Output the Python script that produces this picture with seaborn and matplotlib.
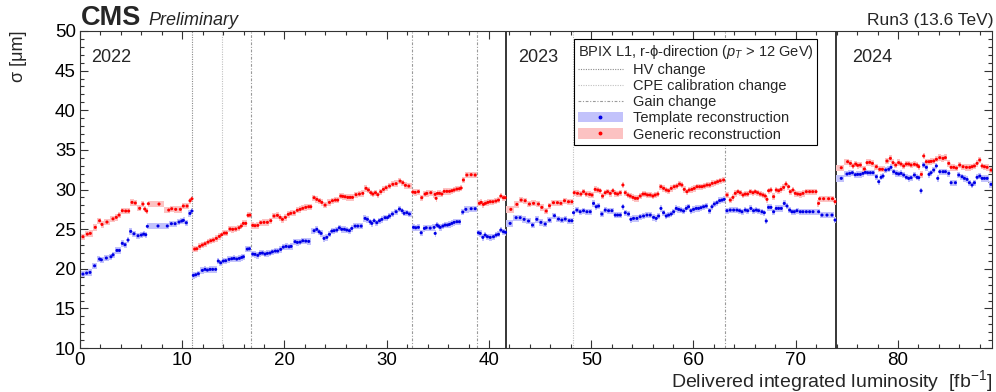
import numpy as np
import pandas as pd
import matplotlib
matplotlib.use("Agg")
import matplotlib.pyplot as plt
import seaborn as sns
from matplotlib.lines import Line2D
from matplotlib.patches import Patch
from matplotlib.legend_handler import HandlerTuple
from matplotlib.ticker import MultipleLocator

sns.set_style("ticks")
plt.rcParams["font.family"] = ["Liberation Sans", "DejaVu Sans"]
plt.rcParams["mathtext.fontset"] = "custom"
plt.rcParams["mathtext.rm"] = "Liberation Sans"
plt.rcParams["mathtext.it"] = "Liberation Sans:italic"
plt.rcParams["mathtext.bf"] = "Liberation Sans:bold"

# ---------------- data ----------------
lumi_template = [
    0.29, 0.65, 0.98, 1.43, 1.92, 2.09, 2.58, 3.03, 3.23, 3.62, 3.85, 4.14, 4.40, 4.70, 4.96, 5.28,
    5.68, 6.00, 6.23, 6.43, 6.59, 7.63, 8.54, 8.94, 9.30, 9.69, 9.95, 10.11, 10.40, 10.76, 10.95,
    11.09, 11.32, 11.58, 11.97, 12.23, 12.46, 12.72, 12.98, 13.27, 13.53, 13.76,
    14.02, 14.25, 14.58, 14.84, 15.07, 15.33, 15.59, 15.82, 15.98, 16.37, 16.57,
    16.90, 17.12, 17.39, 17.61, 17.84, 18.10, 18.33, 18.59, 18.82, 19.11, 19.34, 19.63, 19.89, 20.16,
    20.45, 20.65, 21.04, 21.26, 21.53, 21.79, 22.08, 22.37, 22.90, 23.16, 23.39, 23.58, 23.87, 24.14,
    24.40, 24.63, 24.85, 25.12, 25.37, 25.60, 25.86, 26.09, 26.35, 26.58, 26.91, 27.17, 27.50, 27.89,
    28.11, 28.38, 28.54, 28.77, 29.03, 29.29, 29.52, 29.84, 30.07, 30.27, 30.56, 30.92, 31.25, 31.51,
    31.70, 31.97, 32.22,
    32.62, 32.84, 33.10, 33.37, 33.69, 33.86, 34.25, 34.64, 34.74, 34.90, 35.06, 35.23, 35.49, 35.71,
    35.94, 36.14, 36.37, 36.59, 36.86, 37.11, 37.44, 37.74, 38.26, 38.65,
    38.97, 39.14, 39.40, 39.63, 39.85, 40.12, 40.44, 40.70, 40.93, 41.16, 41.42, 41.62,
    42.07, 42.66, 43.05, 43.44, 43.87, 44.26, 44.68, 45.08, 45.50, 45.92, 46.41, 46.80, 47.13, 47.46,
    47.85, 48.11,
    48.27, 48.60, 48.92, 49.25, 49.58, 49.90, 50.23, 50.49, 50.72, 51.04, 51.37, 51.70, 52.02, 52.35,
    52.58, 52.84, 53.10, 53.33, 53.65, 53.88, 54.14, 54.47, 54.79, 55.12, 55.45, 55.77, 56.10, 56.36,
    56.59, 56.82, 57.08, 57.34, 57.57, 57.83, 58.06, 58.32, 58.55, 58.77, 59.03, 59.30, 59.52, 59.75,
    60.01, 60.27, 60.50, 60.73, 60.99, 61.25, 61.58, 61.81, 62.04, 62.30, 62.56, 62.79, 63.01,
    63.28, 63.60, 63.93, 64.25, 64.51, 64.74, 65.07, 65.30, 65.62, 65.88, 66.15, 66.37, 66.70, 66.93,
    67.12, 67.35, 67.58, 67.84, 68.10, 68.33, 68.59, 68.88, 69.15, 69.41, 69.63, 69.86, 70.12, 70.45,
    70.71, 71.04, 71.36, 71.69, 72.24, 72.57, 73.06, 73.55, 73.85,
    74.46, 75.02, 75.28, 75.54, 75.83, 76.06, 76.32, 76.58, 76.81, 77.04, 77.30, 77.56, 77.89, 78.12,
    78.35, 78.54, 78.80, 79.10, 79.32, 79.59, 79.85, 80.07, 80.30, 80.56, 80.82, 81.05, 81.28, 81.61,
    81.87, 82.03, 82.26, 82.52, 82.78, 83.04, 83.24, 83.50, 83.76, 83.89, 84.09, 84.41, 84.64, 84.97,
    85.20, 85.62, 85.95, 86.27, 86.50, 86.76, 86.99, 87.25, 87.48, 87.74, 88.00, 88.23, 88.46, 88.72,
    89.11,
]
sigma_template = [
    19.34, 19.46, 19.55, 20.38, 21.23, 21.14, 21.36, 21.52, 21.77, 22.32, 22.32, 23.21, 23.04, 23.63, 24.72, 24.42,
    24.17, 24.26, 24.38, 24.30, 25.36, 25.40, 25.40, 25.69, 25.69, 25.90, 26.03, 26.11, 25.81, 26.99, 27.29,
    19.17, 19.25, 19.38, 19.80, 19.93, 19.84, 19.93, 19.93, 19.93, 20.98, 20.76,
    20.98, 21.02, 21.19, 21.27, 21.32, 21.23, 21.32, 21.44, 21.52, 22.49, 22.53,
    21.86, 21.82, 21.70, 21.95, 21.99, 21.86, 21.95, 21.99, 22.15, 22.24, 22.24, 22.45, 22.74, 22.83,
    22.78, 22.83, 23.42, 23.33, 23.37, 23.54, 23.50, 23.46, 24.81, 24.98, 24.68, 24.47, 23.84, 23.97,
    24.35, 24.76, 24.81, 24.89, 25.18, 24.98, 24.98, 24.89, 24.81, 25.10, 25.39, 25.39, 25.39, 26.36,
    26.24, 25.94, 25.73, 26.07, 25.82, 26.07, 26.24, 26.45, 26.45, 26.66, 26.91, 27.20, 27.54, 27.33,
    27.00, 27.08, 26.91,
    25.23, 25.18, 25.23, 24.55, 25.10, 25.18, 25.14, 25.23, 24.47, 25.52, 25.39, 25.23, 25.39, 25.52,
    25.52, 25.60, 25.73, 25.86, 25.94, 25.94, 27.16, 27.50, 27.58, 27.58,
    24.55, 24.47, 23.97, 24.26, 24.05, 23.97, 24.05, 24.26, 24.35, 24.89, 24.68, 24.60,
    25.73, 26.45, 26.45, 26.24, 26.03, 25.52, 26.24, 25.86, 25.65, 26.15, 26.70, 26.28, 26.15, 26.28,
    26.07, 26.07,
    27.08, 27.41, 27.20, 27.33, 27.20, 27.20, 28.25, 27.83, 27.92, 26.91, 27.41, 27.33, 27.33, 26.78,
    26.78, 26.78, 27.83, 27.08, 26.91, 26.24, 26.36, 26.36, 26.57, 26.66, 26.78, 26.78, 26.49, 26.36,
    26.66, 27.62, 27.08, 26.66, 26.78, 26.91, 27.20, 27.62, 27.50, 27.41, 27.29, 27.62, 27.83, 27.33,
    27.50, 27.62, 27.62, 27.71, 27.83, 27.92, 27.33, 27.83, 28.17, 28.34, 28.60, 28.67, 28.76,
    27.33, 27.41, 27.41, 27.41, 27.33, 27.20, 27.41, 27.33, 27.62, 27.33, 27.41, 27.33, 27.20, 27.08,
    26.03, 27.75, 27.75, 27.20, 27.62, 27.62, 27.62, 28.25, 27.92, 27.41, 27.20, 27.20, 27.33, 27.20,
    27.20, 27.20, 27.20, 27.20, 27.20, 26.78, 26.78, 26.78, 26.15,
    31.41, 31.96, 32.04, 32.12, 31.87, 31.91, 31.91, 32.04, 32.17, 32.12, 32.12, 32.12, 31.62, 30.99,
    31.54, 31.70, 32.46, 32.55, 32.80, 32.25, 32.04, 31.96, 32.04, 31.83, 31.54, 31.41, 31.49, 31.83,
    31.54, 31.49, 29.85, 33.09, 32.80, 31.91, 32.12, 32.46, 32.97, 31.41, 32.25, 32.25, 32.25, 32.04,
    30.86, 30.86, 31.83, 31.62, 31.41, 31.28, 30.86, 30.57, 30.86, 31.54, 31.70, 31.41, 31.41, 31.41,
    30.65,
]

lumi_generic = [
    0.29, 0.72, 1.01, 1.50, 1.92, 2.15, 2.64, 3.23, 3.55, 3.82, 4.14, 4.47, 4.76, 5.09, 5.41, 5.84,
    6.16, 6.33, 6.52, 6.69, 7.73, 8.68, 8.97, 9.36, 9.82, 10.11, 10.47, 10.76, 10.95,
    11.22, 11.42, 11.71, 11.97, 12.23, 12.52, 12.79, 13.05, 13.34, 13.63, 13.86,
    14.12, 14.32, 14.68, 14.94, 15.23, 15.56, 15.78, 15.98, 16.21, 16.44, 16.63,
    16.90, 17.12, 17.39, 17.68, 18.00, 18.33, 18.66, 18.98, 19.31, 19.57, 19.80, 20.09, 20.38, 20.61,
    20.94, 21.26, 21.53, 21.79, 22.08, 22.37, 22.57, 22.90, 23.16, 23.42, 23.65, 23.97, 24.40, 24.69,
    24.98, 25.21, 25.51, 25.70, 25.93, 26.19, 26.42, 26.65, 27.00, 27.33, 27.66, 27.98, 28.21, 28.44,
    28.64, 28.90, 29.13, 29.42, 29.68, 29.94, 30.27, 30.60, 30.92, 31.31, 31.58, 31.83, 32.16,
    32.55, 32.78, 33.10, 33.43, 33.76, 33.92, 34.31, 34.74, 34.83, 34.96, 35.16, 35.39, 35.62, 35.88,
    36.14, 36.37, 36.59, 36.86, 37.11, 37.28, 37.50, 37.84, 38.26, 38.65,
    39.07, 39.24, 39.46, 39.66, 39.89, 40.12, 40.38, 40.67, 40.93, 41.16, 41.42, 41.59,
    42.14, 42.73, 43.15, 43.54, 43.96, 44.36, 44.84, 45.17, 45.60, 45.92, 46.31, 46.70, 47.03, 47.39,
    47.78, 48.11,
    48.34, 48.66, 48.99, 49.25, 49.51, 49.84, 50.07, 50.39, 50.65, 50.88, 51.11, 51.37, 51.60, 51.86,
    52.12, 52.35, 52.58, 52.84, 53.10, 53.33, 53.59, 53.82, 54.08, 54.31, 54.53, 54.79, 55.06, 55.28,
    55.51, 55.77, 56.03, 56.26, 56.52, 56.82, 57.08, 57.34, 57.57, 57.83, 58.12, 58.38, 58.64, 58.87,
    59.10, 59.36, 59.59, 59.85, 60.08, 60.34, 60.60, 60.83, 61.06, 61.32, 61.58, 61.84, 62.13, 62.36,
    62.62, 62.95,
    63.28, 63.60, 63.86, 64.09, 64.35, 64.58, 64.84, 65.07, 65.30, 65.56, 65.82, 66.05, 66.28, 66.54,
    66.80, 67.03, 67.19, 67.35, 67.58, 67.84, 68.10, 68.33, 68.56, 68.82, 69.05, 69.31, 69.47, 69.73,
    69.96, 70.19, 70.45, 70.71, 71.04, 71.36, 71.66, 71.98, 72.24, 72.34, 72.73, 73.22, 73.60, 73.85,
    74.46, 75.08, 75.35, 75.61, 75.87, 76.06, 76.32, 76.72, 76.98, 77.24, 77.50, 77.89, 78.22, 78.48,
    78.93, 79.26, 79.52, 79.78, 80.07, 80.30, 80.56, 80.82, 81.05, 81.28, 81.61, 81.87, 82.03, 82.29,
    82.52, 82.78, 83.04, 83.24, 83.50, 83.76, 84.09, 84.41, 84.64, 84.97, 85.20, 85.46, 85.72, 86.04,
    86.37, 86.70, 87.02, 87.25, 87.48, 87.74, 88.00, 88.23, 88.46, 88.72, 89.11,
]
sigma_generic = [
    24.05, 24.38, 24.47, 25.23, 26.07, 25.60, 25.90, 26.30, 26.49, 26.78, 27.33, 27.29, 27.29, 28.38, 28.30, 27.63,
    28.17, 27.54, 27.29, 28.21, 28.17, 27.41, 27.58, 27.50, 27.50, 27.92, 27.92, 28.59, 28.84,
    22.49, 22.53, 22.83, 23.00, 23.16, 23.37, 23.54, 23.63, 23.84, 24.09, 24.30,
    24.51, 24.51, 25.02, 24.98, 25.02, 25.18, 25.39, 25.73, 25.73, 26.75, 26.78,
    25.48, 25.44, 25.48, 25.82, 25.86, 25.86, 26.07, 26.66, 26.74, 26.49, 26.24, 26.49, 26.87, 27.00,
    27.08, 27.38, 27.50, 27.63, 27.75, 27.83, 27.83, 28.97, 28.76, 28.59, 28.38, 28.04, 28.38, 28.59,
    28.67, 28.67, 29.18, 29.14, 29.09, 29.01, 29.01, 29.01, 29.35, 29.43, 29.52, 30.15, 29.94, 29.60,
    29.43, 29.60, 29.35, 29.73, 30.02, 30.23, 30.44, 30.66, 30.74, 31.07, 30.86, 30.53, 30.44,
    29.68, 29.64, 29.73, 28.97, 29.43, 29.52, 29.60, 29.39, 28.89, 29.52, 29.52, 29.43, 29.77, 29.77,
    29.77, 29.85, 29.94, 30.06, 30.10, 30.19, 31.20, 31.83, 31.87, 31.83,
    28.26, 28.38, 28.13, 28.26, 28.38, 28.46, 28.46, 28.55, 28.67, 29.18, 28.97, 28.97,
    27.50, 28.13, 28.67, 28.59, 28.17, 28.26, 28.17, 27.75, 27.29, 27.96, 28.34, 28.34, 28.26, 28.59,
    28.46, 28.46,
    29.60, 29.52, 29.43, 29.73, 29.43, 29.39, 29.31, 30.02, 29.94, 29.85, 29.18, 29.60, 29.73, 29.52,
    29.85, 29.52, 29.43, 29.60, 30.57, 29.60, 29.31, 29.18, 29.01, 28.89, 28.89, 29.18, 29.43, 29.43,
    29.31, 29.31, 29.18, 29.31, 29.43, 30.36, 30.15, 29.94, 29.85, 30.15, 30.36, 30.44, 30.69, 30.57,
    30.02, 29.73, 29.94, 30.02, 30.15, 30.36, 30.36, 30.36, 30.44, 30.57, 30.57, 30.78, 30.86, 30.99,
    31.11, 31.20,
    29.31, 28.67, 29.01, 29.52, 29.73, 29.60, 29.31, 29.43, 29.43, 29.73, 29.60, 29.73, 29.60, 29.43,
    29.31, 29.18, 28.76, 29.85, 29.94, 29.10, 29.94, 29.85, 30.02, 30.27, 30.69, 30.36, 29.73, 29.94,
    29.52, 29.43, 29.39, 29.52, 29.73, 29.73, 29.73, 29.73, 28.25, 28.84, 28.84, 28.84, 28.84, 28.47,
    32.75, 33.51, 33.30, 32.97, 33.22, 33.05, 33.09, 32.59, 33.39, 33.43, 33.30, 32.88, 32.55, 32.55,
    33.60, 33.93, 33.39, 33.09, 33.39, 33.22, 32.97, 33.22, 33.22, 33.09, 33.18, 33.09, 32.88, 31.91,
    34.23, 33.51, 33.51, 33.55, 33.60, 33.81, 34.02, 33.93, 34.02, 33.30, 32.80, 32.80, 32.71, 33.09,
    32.88, 32.80, 32.80, 32.88, 32.97, 33.30, 33.72, 32.97, 32.88, 32.80, 32.46,
]

sigma_error = {"Template reconstruction": 0.4, "Generic reconstruction": 0.4}

segment_edges = [0.0, 11.0, 13.9, 16.7, 32.5, 38.8, 41.7, 48.2, 63.1, 73.9, 89.2]
hv_changes = [11.0]
cpe_changes = [13.9, 48.2]
gain_changes = [16.7, 32.5, 38.8, 63.1]
year_boundaries = [41.7, 73.9]
year_labels = ["2022", "2023", "2024"]
year_label_x = [1.1, 42.9, 75.5]

point_colors = {"Template reconstruction": "#0000e6", "Generic reconstruction": "#ff0000"}
band_colors = {"Template reconstruction": "#c2c2fb", "Generic reconstruction": "#fcc2c2"}

df = pd.concat([
    pd.DataFrame({"lumi": lumi_template, "sigma": sigma_template, "reco": "Template reconstruction"}),
    pd.DataFrame({"lumi": lumi_generic, "sigma": sigma_generic, "reco": "Generic reconstruction"}),
], ignore_index=True)


def bin_limits(x):
    x = np.asarray(x, dtype=float)
    seg = np.searchsorted(segment_edges, x, side="right") - 1
    n = len(x)
    left = np.empty(n)
    right = np.empty(n)
    for i in range(n):
        lo, hi = segment_edges[seg[i]], segment_edges[seg[i] + 1]
        l = (x[i - 1] + x[i]) / 2 if i > 0 and seg[i - 1] == seg[i] else lo
        r = (x[i] + x[i + 1]) / 2 if i < n - 1 and seg[i + 1] == seg[i] else hi
        left[i] = max(l, x[i] - 0.55)
        right[i] = min(r, x[i] + 0.55)
    return left, right


# ---------------- figure ----------------
fig = plt.figure(figsize=(9.96, 3.92), dpi=100)
ax = fig.add_axes([0.0803, 0.112, 0.9157, 0.809])

for reco, sub in df.groupby("reco", sort=False):
    left, right = bin_limits(sub["lumi"].values)
    err = sigma_error[reco]
    ax.bar(left, 2 * err, width=right - left, bottom=sub["sigma"].values - err,
           align="edge", color=band_colors[reco], linewidth=0, zorder=2)

sns.scatterplot(data=df, x="lumi", y="sigma", hue="reco", palette=point_colors,
                marker="o", s=5, linewidth=0, legend=False, ax=ax, zorder=3)

line_hv = dict(color="#8a8a8a", lw=0.8, ls=(0, (1.0, 1.2)))
line_cpe = dict(color="#c0c0c0", lw=0.8, ls=(0, (1.0, 1.2)))
line_gain = dict(color="#9a9a9a", lw=0.8, ls=(0, (2.5, 1.5, 1.0, 1.5)))
for v in hv_changes:
    ax.axvline(v, zorder=1, **line_hv)
for v in cpe_changes:
    ax.axvline(v, zorder=1, **line_cpe)
for v in gain_changes:
    ax.axvline(v, zorder=1, **line_gain)
for v in year_boundaries:
    ax.axvline(v, color="black", lw=1.1, zorder=1)

for lab, xpos in zip(year_labels, year_label_x):
    ax.text(xpos, 46.7, lab, fontsize=13, va="center", ha="left")

ax.set_xlim(0, 89.2)
ax.set_ylim(10, 50)
ax.xaxis.set_major_locator(MultipleLocator(10))
ax.xaxis.set_minor_locator(MultipleLocator(2))
ax.yaxis.set_major_locator(MultipleLocator(5))
ax.yaxis.set_minor_locator(MultipleLocator(1))
ax.tick_params(which="both", direction="in", top=True, right=True, width=0.8, colors="#333333",
               labelcolor="black", labelsize=13.5)
ax.tick_params(which="major", length=6, pad=3)
ax.tick_params(which="minor", length=3.2)
for s in ax.spines.values():
    s.set_color("#333333")
    s.set_linewidth(0.8)

ax.set_xlabel("Delivered integrated luminosity  [fb$^{-1}$]", fontsize=14, loc="right")
ax.xaxis.set_label_coords(1.0, -0.062)
ax.xaxis.label.set_va("top")
ax.set_ylabel("σ [μm]", fontsize=13, loc="top")
ax.yaxis.set_label_coords(-0.058, 1.0)

fig.text(81 / 996, 1 - 25 / 392, "CMS", fontsize=19.5, fontweight="bold", va="baseline", ha="left")
fig.text(148 / 996, 1 - 25 / 392, "Preliminary", fontsize=13, style="italic", va="baseline", ha="left")
fig.text(993 / 996, 1 - 25 / 392, "Run3 (13.6 TeV)", fontsize=12.5, va="baseline", ha="right")

handles = [
    Line2D([], [], **line_hv),
    Line2D([], [], **line_cpe),
    Line2D([], [], **line_gain),
    (Patch(facecolor=band_colors["Template reconstruction"], edgecolor="none"),
     Line2D([], [], ls="", marker="o", ms=1.8, color=point_colors["Template reconstruction"])),
    (Patch(facecolor=band_colors["Generic reconstruction"], edgecolor="none"),
     Line2D([], [], ls="", marker="o", ms=1.8, color=point_colors["Generic reconstruction"])),
]
labels = ["HV change", "CPE calibration change", "Gain change",
          "Template reconstruction", "Generic reconstruction"]
leg = ax.legend(handles, labels, loc="upper left", bbox_to_anchor=((574 - 80) / 912, 1 - (39 - 31) / 317),
                borderaxespad=0, fontsize=10.5, title="BPIX L1, r-ϕ-direction ($p_{T}$ > 12 GeV)",
                title_fontsize=10.5, alignment="left", frameon=True, fancybox=False, framealpha=1,
                edgecolor="black", handlelength=3.1, handletextpad=0.7, labelspacing=0.15,
                borderpad=0.25, handler_map={tuple: HandlerTuple(ndivide=1, pad=0)})
leg.get_frame().set_linewidth(0.8)
leg.set_zorder(5)

fig.savefig("out.png", dpi=100)
